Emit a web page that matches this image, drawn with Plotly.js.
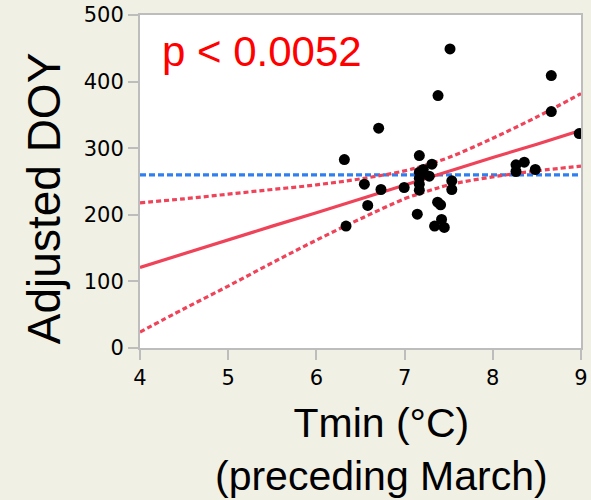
<!DOCTYPE html>
<html>
<head>
<meta charset="utf-8">
<script src="https://cdn.plot.ly/plotly-3.0.1.min.js"></script>
<style>html,body{margin:0;padding:0;background:#f0f0e5;}#chart{width:591px;height:500px;}</style>
</head>
<body>
<div id="chart"></div>
<script>
// Observed points: Tmin (°C, preceding March) vs Adjusted DOY
const tmin = [7.515, 8.663, 7.379, 8.663, 6.706, 8.98, 6.317, 7.167, 7.31, 7.212,
              7.28, 7.167, 7.167, 7.167, 7.167, 6.544, 6.732, 6.995, 7.535, 7.535,
              8.263, 8.357, 8.263, 8.482, 6.582, 7.374, 7.408, 7.144, 6.336, 7.419,
              7.34, 7.45];
const doy = [449, 409, 379, 355, 330, 322, 283, 289, 276, 268,
             258, 264, 255, 246, 237, 246, 238, 241, 251, 238,
             275, 279, 265, 268, 214, 219, 215, 201, 183, 193,
             183, 181];

// Fit line and confidence band
const bandX = [4, 4.5, 5, 5.5, 6, 6.5, 7, 7.25, 7.5, 8, 8.5, 9];
const fitY = [121, 142, 162, 183, 203, 224, 245, 255, 265, 286, 306, 327];
const upperY = [218, 224, 231, 238, 245, 254, 266, 275, 286, 315, 347, 382];
const lowerY = [24, 59, 93, 128, 162, 194, 224, 235, 245, 257, 266, 273];

// Mean line
const meanX = [4, 9];
const meanY = [260, 260];

const xTicks = [4, 5, 6, 7, 8, 9];
const yTicks = [0, 100, 200, 300, 400, 500];

const red = '#ef4359';
const blue = '#2f7ff0';

const traces = [
  {x: meanX, y: meanY, mode: 'lines', line: {color: blue, width: 3.2, dash: '6px,3px'}, hoverinfo: 'skip'},
  {x: bandX, y: upperY, mode: 'lines', line: {color: red, width: 3.2, dash: '5px,3px', shape: 'spline'}, hoverinfo: 'skip'},
  {x: bandX, y: lowerY, mode: 'lines', line: {color: red, width: 3.2, dash: '5px,3px', shape: 'spline'}, hoverinfo: 'skip'},
  {x: bandX, y: fitY, mode: 'lines', line: {color: red, width: 3.2}, hoverinfo: 'skip'},
  {x: tmin, y: doy, mode: 'markers', marker: {color: '#000000', size: 11}, cliponaxis: true}
];

const layout = {
  width: 591, height: 500,
  paper_bgcolor: '#f0f0e5',
  plot_bgcolor: '#ffffff',
  showlegend: false,
  margin: {l: 140, r: 10, t: 15, b: 152, pad: 0},
  font: {family: 'DejaVu Sans, sans-serif', color: '#000000'},
  xaxis: {
    range: [4, 9], tickvals: xTicks, ticktext: xTicks.map(String),
    showgrid: false, zeroline: false,
    showline: true, linecolor: '#bdbdbd', linewidth: 2, mirror: true,
    ticks: 'outside', ticklen: 10, tickwidth: 2, tickcolor: '#bdbdbd',
    tickfont: {size: 21, family: 'DejaVu Sans, sans-serif', color: '#000'}
  },
  yaxis: {
    range: [0, 500], tickvals: yTicks, ticktext: yTicks.map(String),
    showgrid: false, zeroline: false,
    showline: true, linecolor: '#bdbdbd', linewidth: 2, mirror: true,
    ticks: 'outside', ticklen: 10, tickwidth: 2, tickcolor: '#bdbdbd',
    tickfont: {size: 21, family: 'DejaVu Sans, sans-serif', color: '#000'}
  },
  annotations: [
    {text: 'p < 0.0052', xref: 'paper', yref: 'paper', x: 0.045, y: 0.889,
     xanchor: 'left', yanchor: 'middle', showarrow: false,
     font: {family: 'Liberation Sans, Arial, sans-serif', size: 42, color: '#ff0000'}},
    {text: 'Adjusted DOY', xref: 'paper', yref: 'paper', x: -0.2177, y: 0.45,
     xanchor: 'center', yanchor: 'middle', textangle: -90, showarrow: false,
     font: {family: 'Liberation Sans, Arial, sans-serif', size: 46, color: '#000'}},
    {text: 'Tmin (°C)<br>(preceding March)', xref: 'paper', yref: 'paper', x: 0.5465, y: -0.306,
     xanchor: 'center', yanchor: 'middle', showarrow: false,
     font: {family: 'Liberation Sans, Arial, sans-serif', size: 41, color: '#000'}}
  ]
};

Plotly.newPlot('chart', traces, layout, {displayModeBar: false, staticPlot: true});
</script>
</body>
</html>
